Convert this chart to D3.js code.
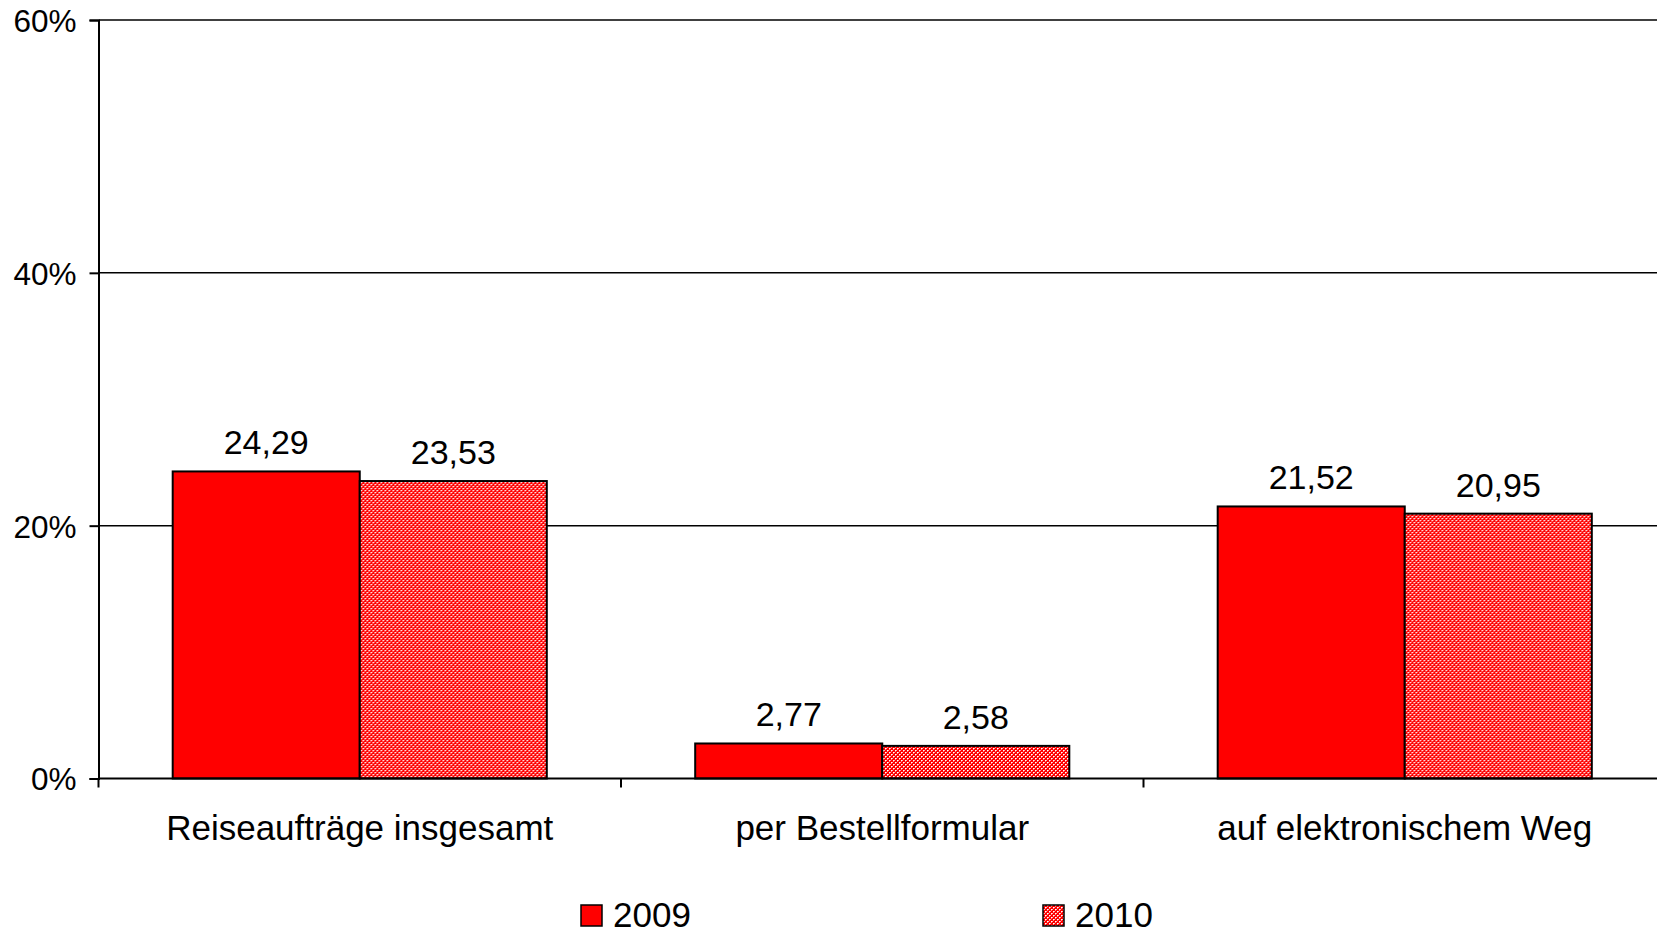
<!DOCTYPE html>
<html>
<head>
<meta charset="utf-8">
<script src="https://cdn.jsdelivr.net/npm/d3@7"></script>
<style>
  html, body { margin: 0; padding: 0; background: #fff; }
  text { font-family: "Liberation Sans", Arial, sans-serif; fill: #000; }
</style>
</head>
<body>
<div id="chart"></div>
<script>
// data
const categories = ["Reiseaufträge insgesamt", "per Bestellformular", "auf elektronischem Weg"];
const series = ["2009", "2010"];
const values2009 = [24.29, 2.77, 21.52];
const values2010 = [23.53, 2.58, 20.95];
const yTicks = [0, 20, 40, 60];

// constants
const width = 1657;
const height = 933;
const plotLeft = 98.5;
const plotTop = 20;
const plotBottom = 778.5;
const catStep = 522.5;

const rows = categories.map((c, i) => ({
    cat: c,
    vals: [
        { s: "2009", v: values2009[i] },
        { s: "2010", v: values2010[i] }
    ]
}));

const svg = d3.select("#chart")
    .append("svg")
    .attr("width", width)
    .attr("height", height);

// small checker pattern for 2010
const defs = svg.append("defs");
const pat = defs.append("pattern")
    .attr("id", "checker")
    .attr("patternUnits", "userSpaceOnUse")
    .attr("width", 4)
    .attr("height", 4);
pat.append("rect").attr("width", 4).attr("height", 4).attr("fill", "#ff0000");
[[0, 0, "#ffffff"], [2, 2, "#ffffff"], [1, 0, "#ffb4b4"], [3, 2, "#ffb4b4"], [0, 1, "#ff8080"], [2, 3, "#ff8080"]].forEach(function(p) {
    pat.append("rect")
        .attr("x", p[0]).attr("y", p[1])
        .attr("width", 1).attr("height", 1)
        .attr("fill", p[2]);
});

// scales
const x0 = d3.scaleBand()
    .domain(categories)
    .range([plotLeft, plotLeft + catStep * categories.length])
    .padding(0);

const x1 = d3.scaleBand()
    .domain(series)
    .range([x0.bandwidth() * 0.142, x0.bandwidth() * 0.858])
    .padding(0);

const y = d3.scaleLinear()
    .domain([0, 60])
    .range([plotBottom, plotTop]);

const fill = { "2009": "#ff0000", "2010": "url(#checker)" };

// gridlines
svg.append("g")
    .selectAll("line")
    .data(yTicks.filter(d => d > 0))
    .enter().append("line")
    .attr("x1", plotLeft)
    .attr("x2", width)
    .attr("y1", d => y(d))
    .attr("y2", d => y(d))
    .attr("stroke", "#000")
    .attr("stroke-width", 1.5);

// y axis
const yAxis = svg.append("g")
    .attr("transform", `translate(${plotLeft},0)`)
    .call(d3.axisLeft(y).tickValues(yTicks).tickFormat(d => d + "%").tickSize(9).tickPadding(13));
yAxis.select(".domain").attr("stroke", "#000").attr("stroke-width", 2);
yAxis.selectAll(".tick line").attr("stroke", "#000").attr("stroke-width", 2);
yAxis.selectAll(".tick text")
    .attr("font-size", 31.5)
    .attr("dy", "0.36em")
    .style("font-family", "'Liberation Sans', Arial, sans-serif");

// bars
const groups = svg.append("g")
    .selectAll("g")
    .data(rows)
    .enter().append("g")
    .attr("transform", d => `translate(${x0(d.cat)},0)`);

groups.selectAll("rect")
    .data(d => d.vals)
    .enter().append("rect")
    .attr("x", d => x1(d.s))
    .attr("y", d => y(d.v))
    .attr("width", x1.bandwidth())
    .attr("height", d => y(0) - y(d.v))
    .attr("fill", d => fill[d.s])
    .attr("stroke", "#000")
    .attr("stroke-width", 2);

// value labels
groups.selectAll("text")
    .data(d => d.vals)
    .enter().append("text")
    .attr("x", d => x1(d.s) + x1.bandwidth() / 2)
    .attr("y", d => y(d.v) - 17)
    .attr("text-anchor", "middle")
    .attr("font-size", 34)
    .text(d => d3.format(".2f")(d.v).replace(".", ","));

// x axis baseline and ticks
svg.append("line")
    .attr("x1", plotLeft)
    .attr("x2", width)
    .attr("y1", y(0))
    .attr("y2", y(0))
    .attr("stroke", "#000")
    .attr("stroke-width", 2);

svg.append("g")
    .selectAll("line")
    .data(categories)
    .enter().append("line")
    .attr("x1", d => x0(d))
    .attr("x2", d => x0(d))
    .attr("y1", y(0))
    .attr("y2", y(0) + 9)
    .attr("stroke", "#000")
    .attr("stroke-width", 2);

svg.append("g")
    .selectAll("text")
    .data(categories)
    .enter().append("text")
    .attr("x", d => x0(d) + x0.bandwidth() / 2)
    .attr("y", 840)
    .attr("text-anchor", "middle")
    .attr("font-size", 35)
    .text(d => d);

// legend
const legendX = { "2009": 581, "2010": 1043 };
const legend = svg.append("g")
    .selectAll("g")
    .data(series)
    .enter().append("g")
    .attr("transform", d => `translate(${legendX[d]},905)`);

legend.append("rect")
    .attr("width", 21)
    .attr("height", 21)
    .attr("fill", d => fill[d])
    .attr("stroke", "#000")
    .attr("stroke-width", 1.5);

legend.append("text")
    .attr("x", 32)
    .attr("y", 22)
    .attr("font-size", 35)
    .text(d => d);
</script>
</body>
</html>
